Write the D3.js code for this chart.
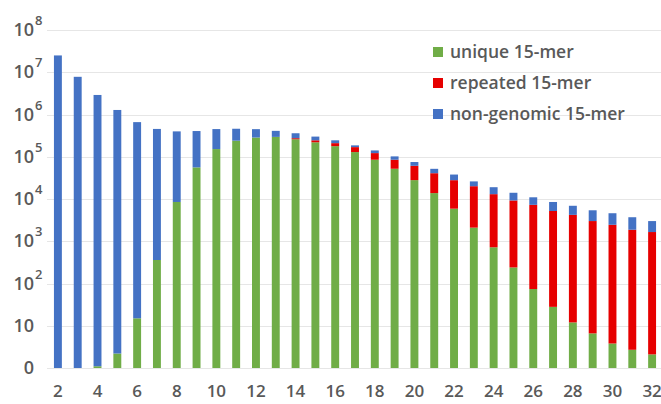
<!DOCTYPE html>
<html>
<head>
<meta charset="utf-8">
<script src="https://cdn.jsdelivr.net/npm/d3@7"></script>
<style>
  body { margin: 0; background: #fff; }
  svg { display: block; font-family: "Open Sans", sans-serif; }
</style>
</head>
<body>
<svg id="chart"></svg>
<script>
const kmerLengths = [2,3,4,5,6,7,8,9,10,11,12,13,14,15,16,17,18,19,20,21,22,23,24,25,26,27,28,29,30,31,32];

const unique = [0,0,1.1,2.2,15,360,8500,56000,152000,240000,285000,295000,260000,220000,178000,129000,
    85000,52000,28000,13800,5900,2100,720,240,74,28,12,6.6,3.8,2.7,2.1];

const repeated = [0,0,0,0,0,0,0,0,0,0,0,0,15000,25000,32000,40000,
    37000,33000,33000,27000,22000,18000,12300,9000,7200,5170,4200,3000,2450,1870,1650];

const nonGenomic = [25000000,7800000,2900000,1280000,660000,455000,390000,350000,300000,220000,165000,115000,85000,55000,35000,17000,
    19000,17000,14000,11000,10000,6000,6000,4800,3700,3300,2700,2400,2150,1830,1350];

const seriesNames = ["unique 15-mer", "repeated 15-mer", "non-genomic 15-mer"];
const seriesColors = ["#70ad47", "#e60000", "#4472c4"];

const xTickValues = [2,4,6,8,10,12,14,16,18,20,22,24,26,28,30,32];
const yTickValues = [1,1e1,1e2,1e3,1e4,1e5,1e6,1e7,1e8];
const yTickExponents = ["", "", "2", "3", "4", "5", "6", "7", "8"];
const yTickBases = ["0", "10", "10", "10", "10", "10", "10", "10", "10"];

const width = 661, height = 404;
const margin = {top: 30, right: 0, bottom: 36, left: 48};

const keys = ["unique", "repeated", "nonGenomic"];
const table = kmerLengths.map((k, i) => ({
    k: k,
    unique: unique[i],
    repeated: repeated[i],
    nonGenomic: nonGenomic[i]
}));

const stacked = d3.stack().keys(keys)(table);

const x = d3.scaleBand()
    .domain(kmerLengths)
    .range([margin.left, 662])
    .paddingInner(0.6)
    .paddingOuter(0.3);

const y = d3.scaleLog()
    .domain([1, 1e8])
    .range([height - margin.bottom, margin.top])
    .clamp(true);

const svg = d3.select("#chart")
    .attr("width", width)
    .attr("height", height);

// gridlines
svg.append("g")
    .selectAll("line")
    .data(yTickValues)
    .enter()
    .append("line")
    .attr("x1", 47)
    .attr("x2", width)
    .attr("y1", d => Math.round(y(d)) + 0.5)
    .attr("y2", d => Math.round(y(d)) + 0.5)
    .attr("stroke", "#e6e6e6")
    .attr("stroke-width", 1);

// bars
svg.append("g")
    .selectAll("g")
    .data(stacked)
    .enter()
    .append("g")
    .attr("fill", (d, i) => seriesColors[i])
    .selectAll("rect")
    .data(d => d)
    .enter()
    .append("rect")
    .attr("x", d => x(d.data.k))
    .attr("y", d => y(Math.max(1, d[1])))
    .attr("width", x.bandwidth())
    .attr("height", d => y(Math.max(1, d[0])) - y(Math.max(1, d[1])));

// y axis labels
svg.append("g")
    .selectAll("text")
    .data(yTickValues)
    .enter()
    .append("text")
    .attr("x", 34)
    .attr("y", d => y(d) + 6)
    .attr("text-anchor", "end")
    .attr("fill", "#595959")
    .style("font-size", "18px")
    .style("font-weight", 600)
    .text((d, i) => yTickBases[i]);

svg.append("g")
    .selectAll("text")
    .data(yTickValues)
    .enter()
    .filter((d, i) => yTickExponents[i] !== "")
    .append("text")
    .attr("x", 35)
    .attr("y", d => y(d) - 5)
    .attr("fill", "#595959")
    .style("font-size", "13px")
    .style("font-weight", 600)
    .text(d => yTickExponents[yTickValues.indexOf(d)]);

// x axis
const xAxis = svg.append("g")
    .attr("transform", `translate(0,${height - margin.bottom})`)
    .call(d3.axisBottom(x).tickValues(xTickValues).tickSize(0).tickPadding(17));

xAxis.select(".domain").remove();
xAxis.selectAll("text")
    .attr("fill", "#595959")
    .style("font-family", "'Open Sans', sans-serif")
    .style("font-size", "17px")
    .style("font-weight", 600);

// legend
const legend = svg.append("g")
    .attr("transform", "translate(433,52)");

const legendRows = legend.selectAll("g")
    .data(seriesNames)
    .enter()
    .append("g")
    .attr("transform", (d, i) => `translate(0,${i * 31})`);

legendRows.append("rect")
    .attr("x", 0)
    .attr("y", -5)
    .attr("width", 10)
    .attr("height", 10)
    .attr("fill", (d, i) => seriesColors[i]);

legendRows.append("text")
    .attr("x", 17)
    .attr("y", 6)
    .attr("fill", "#595959")
    .style("font-size", "17.5px")
    .style("font-weight", 600)
    .text(d => d);
</script>
</body>
</html>
